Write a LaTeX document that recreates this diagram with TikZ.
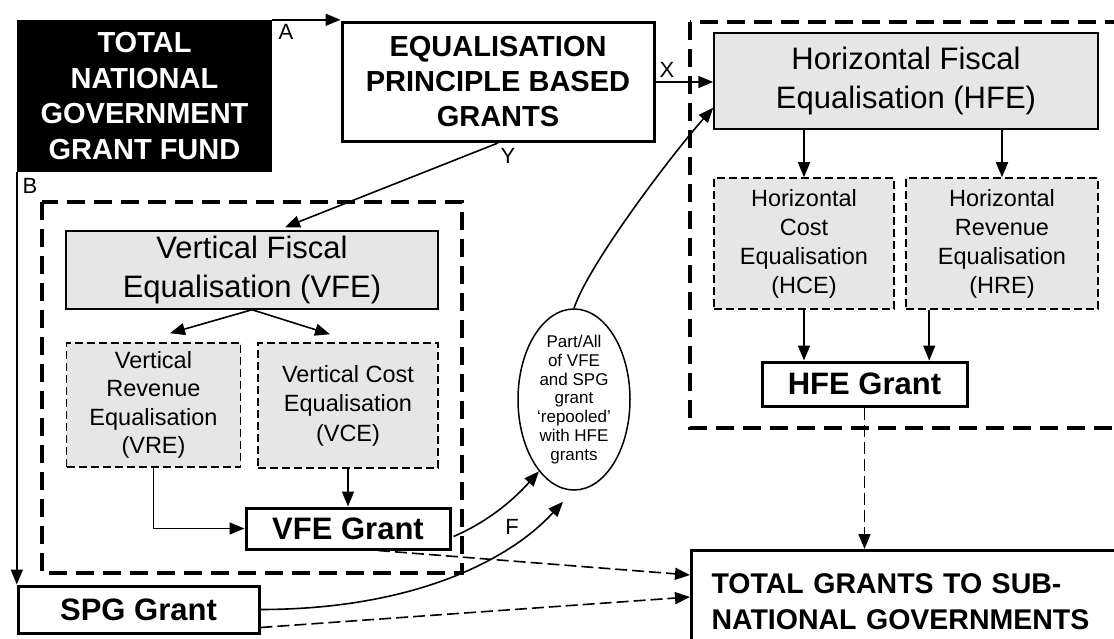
\documentclass[tikz,border=0pt]{standalone}
\usepackage{fontspec}
\setmainfont{Liberation Sans}
\usetikzlibrary{shapes.geometric,arrows.meta,calc}
\definecolor{boxgray}{RGB}{230,230,230}
\newcommand\fsz[2]{\fontsize{#1}{#2}\selectfont}
\begin{document}
\begin{tikzpicture}[x=1pt,y=-1pt,
  every node/.style={inner sep=0pt},
  thinbox/.style={draw, line width=1.5pt, fill=boxgray, align=center},
  dashbox/.style={thinbox, dash pattern=on 8pt off 4pt, font=\fsz{23.5}{29}},
  bigbox/.style={thinbox, font=\fsz{31}{38.5}},
  thickbox/.style={draw, line width=3pt, fill=white, align=center, font=\fsz{31}{36}\bfseries},
  container/.style={draw, line width=3.2pt, dash pattern=on 18pt off 9pt},
  conn/.style={line width=1.6pt, -{Triangle[length=15pt,width=12pt]}},
  dconn/.style={conn, dash pattern=on 12pt off 5pt},
  lab/.style={font=\fsz{22}{24}}]
\useasboundingbox (0,0) rectangle (1114,639);
\fill[white] (0,0) rectangle (1114,639);
\clip (0,0) rectangle (1114,639);

% containers
\draw[container] (42,202) rectangle (462,573);
\draw[container] (690,22) rectangle (1135,428);

% nodes
\node[fill=black, text=white, minimum width=255pt, minimum height=152pt, align=center, font=\fsz{29}{35.7}\bfseries] (fund) at (144.5,96) {TOTAL\\NATIONAL\\GOVERNMENT\\GRANT FUND};
\node[thickbox, minimum width=312pt, minimum height=119pt, font=\fsz{29}{35}\bfseries] (epbg) at (498,82) {EQUALISATION\\PRINCIPLE BASED\\GRANTS};

\node[bigbox, minimum width=384pt, minimum height=96pt] (hfe) at (906,81) {Horizontal Fiscal\\Equalisation (HFE)};
\node[dashbox, minimum width=180pt, minimum height=131pt] (hce) at (804,243.5) {Horizontal\\Cost\\Equalisation\\(HCE)};
\node[dashbox, minimum width=192pt, minimum height=131pt] (hre) at (1002,243.5) {Horizontal\\Revenue\\Equalisation\\(HRE)};
\node[thickbox, minimum width=205pt, minimum height=44pt] (hfeg) at (864.5,384) {HFE Grant};

\node[bigbox, minimum width=372pt, minimum height=78pt] (vfe) at (252,270) {Vertical Fiscal\\Equalisation (VFE)};
\node[dashbox, minimum width=174pt, minimum height=124pt, font=\fsz{23.5}{28.5}] (vre) at (153.5,405) {Vertical\\Revenue\\Equalisation\\(VRE)};
\node[dashbox, minimum width=180pt, minimum height=125pt, font=\fsz{23.5}{29.5}] (vce) at (348,405.5) {Vertical Cost\\Equalisation\\(VCE)};
\node[thickbox, minimum width=204pt, minimum height=41pt] (vfeg) at (348,528.5) {VFE Grant};

\node[thickbox, minimum width=241pt, minimum height=47pt] (spg) at (138.5,609.5) {SPG Grant};

\node[ellipse, draw, line width=1.5pt, fill=white, minimum width=112pt, minimum height=181pt, inner sep=-1.5pt, align=center, font=\fsz{17}{18.8}] (ell) at (574,399.5) {Part/All\\of VFE\\and SPG\\grant\\‘repooled’\\with HFE\\grants};

\node[thickbox, anchor=north west, minimum width=440pt, minimum height=102pt, text width=400pt, inner xsep=20pt, align=left, font=\fsz{28.5}{36}\bfseries] (total) at (690,549) {TOTAL GRANTS TO SUB-\\NATIONAL GOVERNMENTS};

% labels
\node[lab] (la) at (286,32) {A};
\node[lab] (lb) at (30,186) {B};
\node[lab] (lx) at (667,70) {X};
\node[lab] (ly) at (508,156) {Y};
\node[lab] (lf) at (512,527) {F};

% connectors
\draw[conn, line width=2pt] (fund.north east) -- (fund.north east -| epbg.west);
\draw[conn, line width=2pt] (fund.south west) -- (fund.south west |- spg.north);
\draw[conn] (epbg.south) -- ($(vfe.north)+(33,-3)$);
\draw[conn] (epbg.east) -- (epbg.east -| hfe.west);

\draw[conn] (hce.north |- hfe.south) -- (hce.north);
\draw[conn] (hre.north |- hfe.south) -- (hre.north);
\draw[conn] (hce.south) -- (hce.south |- hfeg.north);
\coordinate (hrefoot) at ($(hre.south west)+(24,0)$);
\draw[conn] (hrefoot) -- (hrefoot |- hfeg.north);
\draw[dconn] (hfeg.south) -- (hfeg.south |- total.north);

\draw[conn] (vfe.south) -- ($(vre.north)+(16.5,-9)$);
\draw[conn] (vfe.south) -- ($(vce.north)+(-18,-8)$);
\draw[conn] (vre.south) |- (vfeg.west);
\draw[conn] (vce.south) -- (vfeg.north);

\coordinate (vfegout) at ($(vfeg.east)+(2,8)$);
\draw[conn] (vfegout) .. controls +(35,-15) and +(-25,28) .. (ell.244);
\coordinate (spgin) at ($(ell.south)+(-11,11)$);
\draw[conn] (spg.east) .. controls +(150,0) and +(-55,60) .. (spgin);
\coordinate (hfein) at ($(hfe.south west)+(0,-22)$);
\draw[conn] (ell.north) .. controls +(15,-45) and +(-40,45) .. (hfein);

\draw[dconn] ($(vfeg.south)+(30,0)$) -- ($(total.north west)+(0,26)$);
\draw[dconn] ($(spg.south east)+(0,-7)$) -- ($(total.north west)+(0,48)$);
\end{tikzpicture}
\end{document}
